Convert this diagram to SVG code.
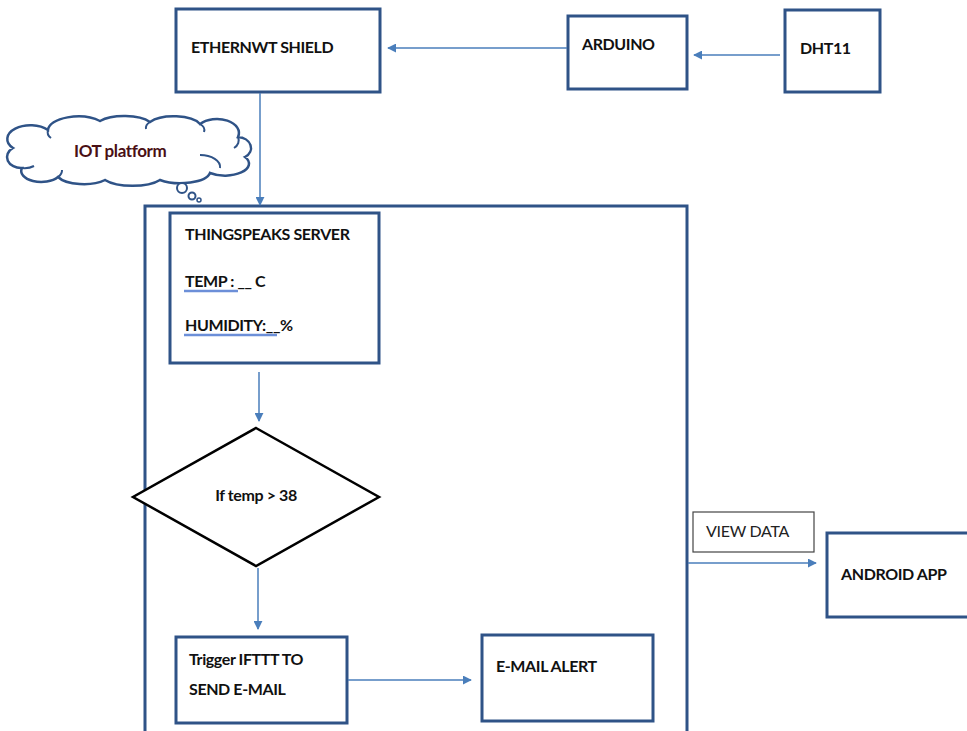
<svg xmlns="http://www.w3.org/2000/svg" width="967" height="731" viewBox="0 0 967 731">
<defs>
<marker id="ah" viewBox="0 0 10 10" refX="9" refY="5" markerWidth="9" markerHeight="9" markerUnits="userSpaceOnUse" orient="auto"><path d="M0,0 L10,5 L0,10 Z" fill="#4A7EBB"/></marker>
<style>
.box{fill:#fff;stroke:#2F5387;stroke-width:3}
.lbl{font-family:Lato,"Open Sans","Liberation Sans",sans-serif;font-weight:bold;font-size:16px;fill:#111;letter-spacing:-0.4px}
.con{stroke:#4A7EBB;stroke-width:1.5;fill:none;marker-end:url(#ah)}
</style>
</defs>
<rect width="967" height="731" fill="#fff"/>
<g id="container"><rect x="145" y="206" width="542" height="530" fill="none" stroke="#2F5387" stroke-width="3"/></g>
<g id="cloud">
<path d="M22,168 A14,11 0 0 1 13,148 A22,13 0 0 1 48,130 A30,14 0 0 1 100,121 A30,12 0 0 1 150,122 A28,12 0 0 1 200,124 A22,14 0 0 1 238,137 A14,11 0 0 1 245,157 A24,12 0 0 1 210,173 A30,12 0 0 1 160,180 A32,12 0 0 1 105,180 A28,12 0 0 1 58,177 A20,11 0 0 1 22,168 Z" fill="#fff" stroke="#2F5387" stroke-width="2.5"/>
<path d="M22,168 A14,8 0 0 0 34,166 M58,177 A16,10 0 0 0 62,170 M200,155 A20,12 0 0 1 220,168 M238,137 A10,9 0 0 1 234,148 M200,124 A12,8 0 0 1 204,132 M150,122 A12,8 0 0 0 146,129 M48,130 A10,8 0 0 0 51,138" fill="none" stroke="#2F5387" stroke-width="2"/>
<circle cx="182" cy="188" r="5" fill="#fff" stroke="#2F5387" stroke-width="2"/>
<circle cx="192" cy="196" r="3.5" fill="#fff" stroke="#2F5387" stroke-width="2"/>
<circle cx="199" cy="200" r="2" fill="#fff" stroke="#2F5387" stroke-width="1.5"/>
<text x="74" y="157" class="lbl" style="fill:#4a1015;font-size:17px">IOT platform</text>
</g>
<g id="ethernet"><rect class="box" x="176" y="9" width="204" height="83"/><text class="lbl" x="191" y="53">ETHERNWT SHIELD</text></g>
<g id="arduino"><rect class="box" x="568" y="16" width="119" height="73"/><text class="lbl" x="582" y="50">ARDUINO</text></g>
<g id="dht11"><rect class="box" x="785" y="10" width="95" height="82"/><text class="lbl" x="800" y="54">DHT11</text></g>
<g id="thingspeak"><rect class="box" x="170" y="213" width="209" height="150"/>
<text class="lbl" x="185" y="240">THINGSPEAKS SERVER</text>
<text class="lbl" x="185" y="287">TEMP : __  C</text>
<text class="lbl" x="185" y="331">HUMIDITY:__%</text>
<line x1="184" y1="291" x2="238" y2="291" stroke="#6C8FD8" stroke-width="2.5"/>
<line x1="184" y1="335" x2="277" y2="335" stroke="#6C8FD8" stroke-width="2.5"/>
</g>
<g id="decision"><polygon points="256,428 379,497 256,566 133,497" fill="#fff" stroke="#000" stroke-width="2.5"/><text class="lbl" x="256" y="501" text-anchor="middle">If temp &gt; 38</text></g>
<g id="trigger"><rect class="box" x="176" y="637" width="171" height="86"/><text class="lbl" x="189" y="665">Trigger IFTTT TO</text><text class="lbl" x="189" y="695">SEND E-MAIL</text></g>
<g id="email"><rect class="box" x="482" y="635" width="171" height="86"/><text class="lbl" x="496" y="672">E-MAIL ALERT</text></g>
<g id="viewdata"><rect x="693" y="512" width="121" height="40" fill="#fff" stroke="#444" stroke-width="1.2"/><text x="706" y="537" style="font-family:Lato,'Open Sans','Liberation Sans',sans-serif;font-size:16px;fill:#222;letter-spacing:-0.3px">VIEW DATA</text></g>
<g id="android"><rect class="box" x="827" y="533" width="150" height="84"/><text class="lbl" x="841" y="580">ANDROID APP</text></g>
<g id="connectors">
<line class="con" x1="567" y1="48" x2="388" y2="48"/>
<line class="con" x1="780" y1="55" x2="694" y2="55"/>
<line class="con" x1="260" y1="93" x2="260" y2="205"/>
<line class="con" x1="259" y1="372" x2="259" y2="421"/>
<line class="con" x1="258" y1="568" x2="258" y2="629"/>
<line class="con" x1="348" y1="680" x2="471" y2="680"/>
<line class="con" x1="688" y1="563" x2="816" y2="563"/>
</g>
</svg>
